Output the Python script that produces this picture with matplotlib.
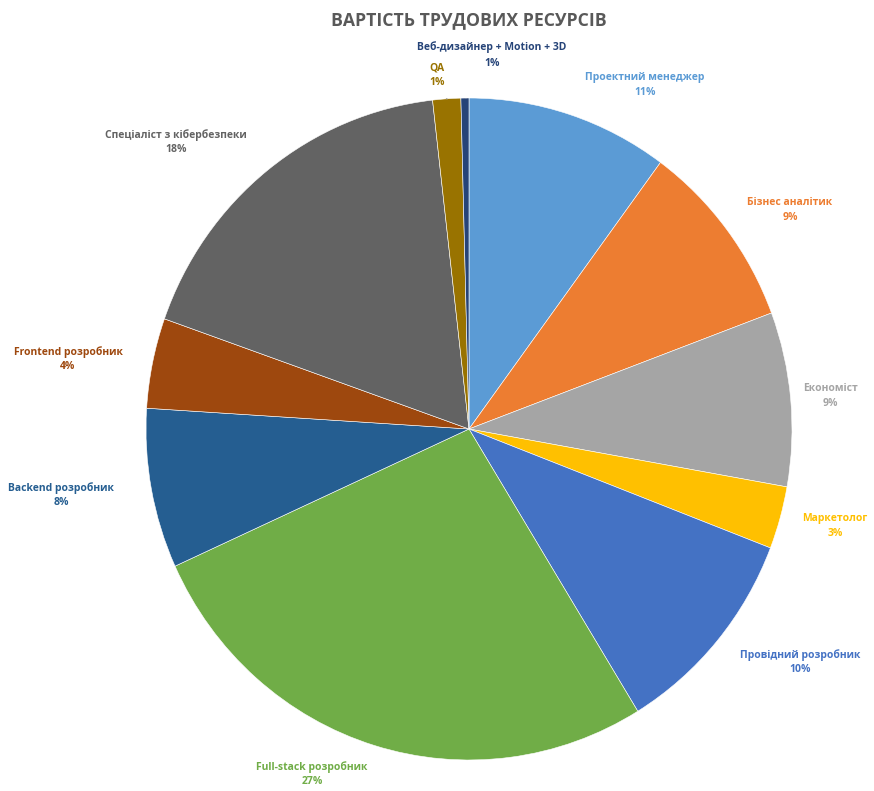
import matplotlib
matplotlib.use("Agg")
import matplotlib.pyplot as plt

plt.rcParams['font.family'] = ['Open Sans', 'DejaVu Sans']

categories = ["Проектний менеджер", "Бізнес аналітик", "Економіст", "Маркетолог",
              "Провідний розробник", "Full-stack розробник", "Backend розробник",
              "Frontend розробник", "Спеціаліст з кібербезпеки", "QA",
              "Веб-дизайнер + Motion + 3D"]
values = [10.1, 9.2, 8.5, 3.05, 10.4, 26.95, 7.8, 4.4, 17.8, 1.4, 0.4]
pct_labels = ["11%", "9%", "9%", "3%", "10%", "27%", "8%", "4%", "18%", "1%", "1%"]
colors = ["#5B9BD5", "#ED7D31", "#A5A5A5", "#FFC000", "#4472C4", "#70AD47",
          "#255E91", "#9E480E", "#636363", "#997300", "#264478"]
title = "ВАРТІСТЬ ТРУДОВИХ РЕСУРСІВ"

# label centers in pixel coordinates (layout)
label_px = [(645, 85), (790, 210), (830, 396), (835, 526), (800, 662), (312, 774),
            (61, 495), (68, 359), (176, 142), (437, 75), (492, 55)]

W, H = 874, 791
fig = plt.figure(figsize=(W / 100, H / 100), dpi=100)
cx, cy, rx, ry = 469, 429, 323, 331
ax = fig.add_axes([(cx - rx) / W, (H - cy - ry) / H, 2 * rx / W, 2 * ry / H])
ax.pie(values, colors=colors, startangle=90, counterclock=False,
       wedgeprops=dict(edgecolor="white", linewidth=0.4))
ax.set_aspect('auto')
ax.set_xlim(-1, 1)
ax.set_ylim(-1, 1)
ax.axis('off')

def px2data(x, y):
    return (x - cx) / rx, (cy - y) / ry

fs = 7.5
for cat, pct, col, (lx, ly) in zip(categories, pct_labels, colors, label_px):
    if cat == "Веб-дизайнер + Motion + 3D":
        x, y = px2data(lx, 47)
        ax.text(x, y, cat, ha='center', va='center', color=col, fontsize=fs, fontweight='bold')
        x, y = px2data(lx, 64)
        ax.text(x, y, pct, ha='center', va='center', color=col, fontsize=fs, fontweight='bold')
        ax.plot(*zip(px2data(484, 67), px2data(466, 98)), color="#A6A6A6", lw=0.8)
        continue
    x, y = px2data(lx, ly)
    ax.text(x, y, f"{cat}\n{pct}", ha='center', va='center', color=col,
            fontsize=fs, fontweight='bold', linespacing=1.45)
    if cat == "QA":
        ax.plot(*zip(px2data(442, 89), px2data(447, 99)), color="#A6A6A6", lw=0.8)

fig.text(469 / W, 1 - 20 / H, title, ha='center', va='center', fontsize=12.7,
         fontweight='bold', color="#595959")

fig.savefig("out.png", dpi=100, facecolor="white")
